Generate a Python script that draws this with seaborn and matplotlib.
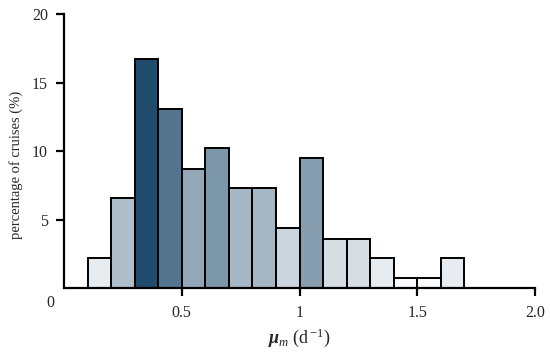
import numpy as np
import matplotlib
matplotlib.use("Agg")
import matplotlib.pyplot as plt
import seaborn as sns
from matplotlib.colors import LinearSegmentedColormap

# histogram bins (growth rate, d-1) and percentage of cruises per bin
bin_edges = [0.1, 0.2, 0.3, 0.4, 0.5, 0.6, 0.7, 0.8, 0.9, 1.0,
             1.1, 1.2, 1.3, 1.4, 1.5, 1.6, 1.7]
bin_centers = [0.15, 0.25, 0.35, 0.45, 0.55, 0.65, 0.75, 0.85,
               0.95, 1.05, 1.15, 1.25, 1.35, 1.45, 1.55, 1.65]
percent = [2.2, 6.6, 16.7, 13.1, 8.7, 10.2, 7.3, 7.3,
           4.4, 9.5, 3.6, 3.6, 2.2, 0.7, 0.7, 2.2]

xticks = [0.5, 1.0, 1.5, 2.0]
xticklabels = ["0.5", "1", "1.5", "2.0"]
yticks = [5, 10, 15, 20]

sns.set_style("ticks")
plt.rcParams["font.family"] = ["Liberation Serif", "DejaVu Serif"]
plt.rcParams["mathtext.fontset"] = "custom"
plt.rcParams["mathtext.rm"] = "Liberation Serif"
plt.rcParams["mathtext.it"] = "Liberation Serif:italic"
plt.rcParams["mathtext.bf"] = "Liberation Serif:italic:bold"

fig = plt.figure(figsize=(5.5, 3.58), dpi=100)
ax = fig.add_axes([0.1164, 0.1955, 0.8563, 0.7654])

sns.histplot(x=bin_centers, weights=percent, bins=bin_edges, ax=ax,
             edgecolor="black", linewidth=1.4, alpha=1)

# shade each bar by its height (white -> dark navy)
cmap = LinearSegmentedColormap.from_list("navy", ["#ffffff", "#1f4b6d"])
top = max(percent)
for patch in ax.patches:
    patch.set_facecolor(cmap((patch.get_height() / top) ** 1.1))

ax.set_xlim(0, 2.0)
ax.set_ylim(0, 20)
ax.set_xticks(xticks)
ax.set_xticklabels(xticklabels)
ax.set_yticks(yticks)
ax.tick_params(axis="both", direction="out", length=5.5, width=1.6,
               labelsize=11.5, color="black")
ax.tick_params(axis="x", pad=7)
ax.tick_params(axis="y", pad=6)
for side in ["left", "bottom"]:
    ax.spines[side].set_linewidth(1.6)
    ax.spines[side].set_color("black")
sns.despine(ax=ax)

# origin label sits below the corner
ax.text(-0.06, -1.1, "0", ha="center", va="center", fontsize=11.5,
        clip_on=False)

ax.set_ylabel("percentage of cruises (%)", fontsize=10.5)
ax.yaxis.set_label_coords(-0.088, 0.45)
ax.set_xlabel(r"$\mathbf{\mu}_m$ (d$^{\,\mathrm{-1}}$)", fontsize=13,
              labelpad=4)

fig.savefig("out.png", dpi=100)
